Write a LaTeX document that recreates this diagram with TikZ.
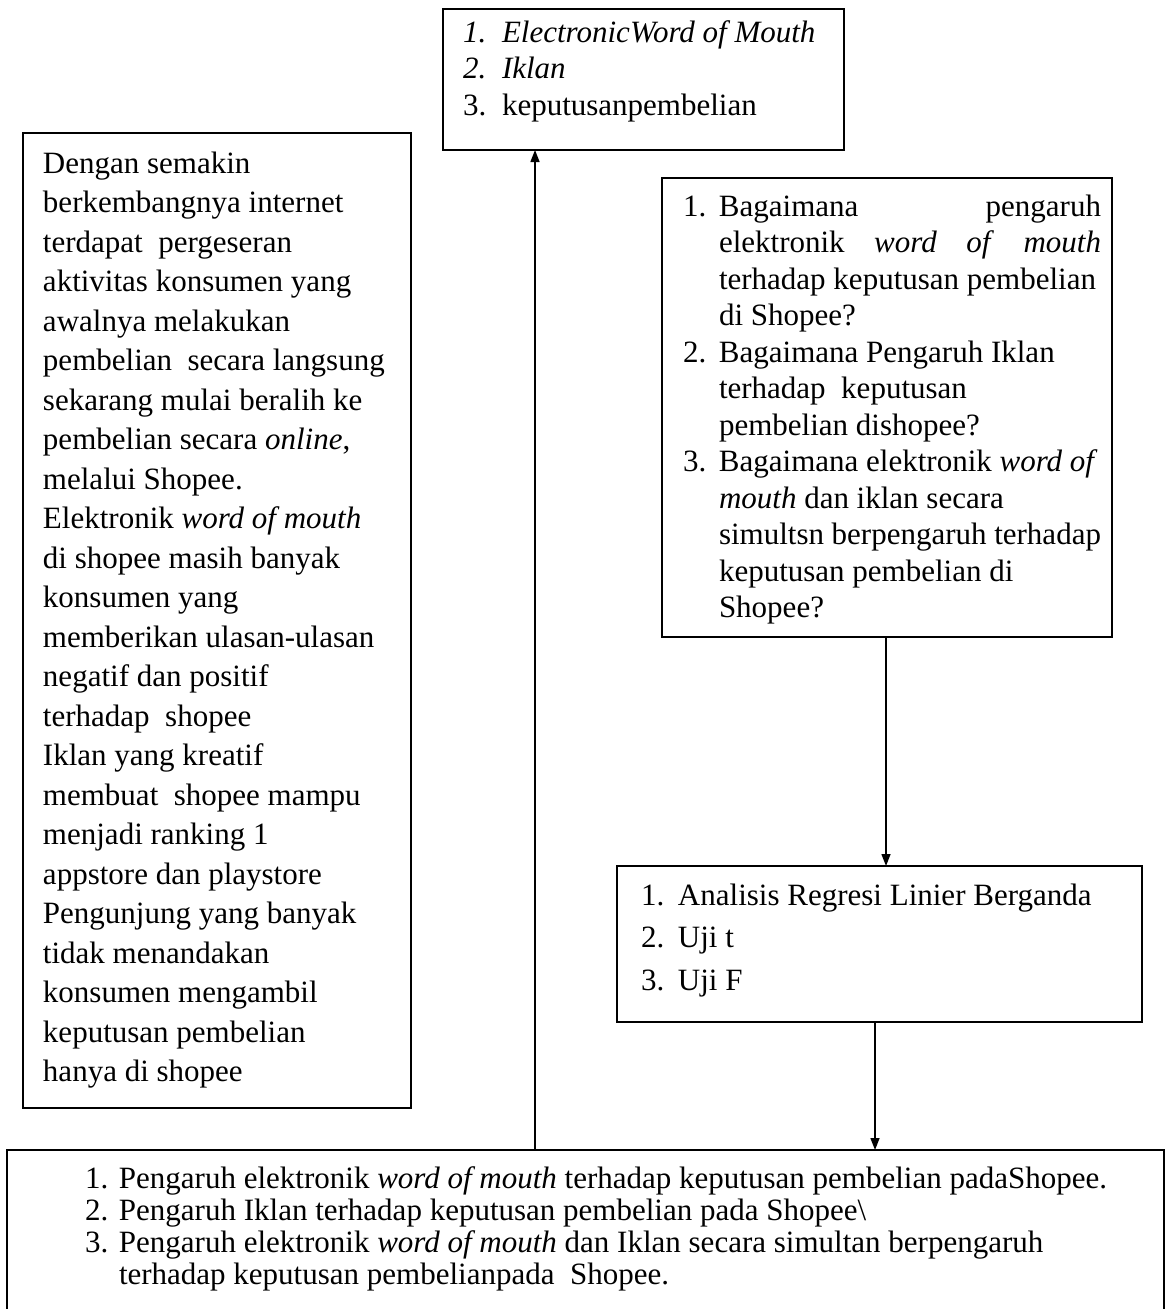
\documentclass[tikz,border=0pt]{standalone}
\usepackage{fontspec}
\setmainfont{Liberation Serif}
\usetikzlibrary{arrows.meta}
\newlength{\numw}
\newcommand{\diaRow}[2]{\hbox to \linewidth{\makebox[\numw][l]{#1}#2\hfil}}
\begin{document}
\begin{tikzpicture}[x=1pt,y=-1pt,
  frame/.style={draw=black, line width=1.6pt, inner sep=0pt, outer sep=0pt, anchor=north west},
  link/.style={draw=black, line width=1.4pt, -{Triangle[length=12pt,width=9pt]}}]
\useasboundingbox (0,0) rectangle (1166,1309);
\clip (0,0) rectangle (1166,1309);

% top box
\node[frame] (topbox) at (443,9) {\hspace*{20pt}\parbox[t][141pt][t]{381pt}{%
  \fontsize{31}{36.5}\selectfont\setlength{\numw}{39pt}%
  \diaRow{\rule{0pt}{33pt}\textit{1.}}{\textit{ElectronicWord of Mouth}}
  \diaRow{\textit{2.}}{\textit{Iklan}}
  \diaRow{3.}{keputusanpembelian}}};

% left box
\node[frame] (leftbox) at (23,133) {\hspace*{20pt}\parbox[t][975pt][t]{368pt}{%
  \fontsize{31}{39.5}\selectfont\setlength{\numw}{0pt}%
  \diaRow{\rule{0pt}{40pt}}{Dengan semakin}
  \diaRow{}{berkembangnya internet}
  \diaRow{}{terdapat\ \ pergeseran}
  \diaRow{}{aktivitas konsumen yang}
  \diaRow{}{awalnya melakukan}
  \diaRow{}{pembelian\ \ secara langsung}
  \diaRow{}{sekarang mulai beralih ke}
  \diaRow{}{pembelian secara \textit{online},}
  \diaRow{}{melalui Shopee.}
  \diaRow{}{Elektronik \textit{word of mouth}}
  \diaRow{}{di shopee masih banyak}
  \diaRow{}{konsumen yang}
  \diaRow{}{memberikan ulasan-ulasan}
  \diaRow{}{negatif dan positif}
  \diaRow{}{terhadap\ \ shopee}
  \diaRow{}{Iklan yang kreatif}
  \diaRow{}{membuat\ \ shopee mampu}
  \diaRow{}{menjadi ranking 1}
  \diaRow{}{appstore dan playstore}
  \diaRow{}{Pengunjung yang banyak}
  \diaRow{}{tidak menandakan}
  \diaRow{}{konsumen mengambil}
  \diaRow{}{keputusan pembelian}
  \diaRow{}{hanya di shopee}}};

% question box
\node[frame] (qbox) at (662,178) {\hspace*{21pt}\parbox[t][459pt][t]{418pt}{%
  \fontsize{31}{36.5}\selectfont\setlength{\numw}{36pt}%
  \diaRow{\rule{0pt}{38pt}1.}{Bagaimana\hfill pengaruh}
  \diaRow{}{elektronik\hfill\textit{word}\hfill\textit{of}\hfill\textit{mouth}}
  \diaRow{}{terhadap keputusan pembelian}
  \diaRow{}{di Shopee?}
  \diaRow{2.}{Bagaimana Pengaruh Iklan}
  \diaRow{}{terhadap\ \ keputusan}
  \diaRow{}{pembelian dishopee?}
  \diaRow{3.}{Bagaimana elektronik \textit{word of}}
  \diaRow{}{\textit{mouth} dan iklan secara}
  \diaRow{}{simultsn berpengaruh terhadap}
  \diaRow{}{keputusan pembelian di}
  \diaRow{}{Shopee?}}\hspace*{11pt}};

% analysis box
\node[frame] (abox) at (617,866) {\hspace*{24pt}\parbox[t][156pt][t]{501pt}{%
  \fontsize{31}{42.5}\selectfont\setlength{\numw}{37pt}%
  \diaRow{\rule{0pt}{39pt}1.}{Analisis Regresi Linier Berganda}
  \diaRow{2.}{Uji t}
  \diaRow{3.}{Uji F}}};

% bottom box
\node[frame] (bottombox) at (7,1150) {\hspace*{78pt}\parbox[t][180pt][t]{1079pt}{%
  \fontsize{31}{32}\selectfont\setlength{\numw}{34pt}%
  \diaRow{\rule{0pt}{38pt}1.}{Pengaruh elektronik \textit{word of mouth} terhadap keputusan pembelian padaShopee.}
  \diaRow{2.}{Pengaruh Iklan terhadap keputusan pembelian pada Shopee\textbackslash}
  \diaRow{3.}{Pengaruh elektronik \textit{word of mouth} dan Iklan secara simultan berpengaruh}
  \diaRow{}{terhadap keputusan pembelianpada\ \ Shopee.}}};

% connectors
\coordinate (c1) at (535,0);
\coordinate (c2) at (886,0);
\coordinate (c3) at (875,0);
\draw[link] (bottombox.north -| c1) -- (topbox.south -| c1);
\draw[link] (qbox.south -| c2) -- (abox.north -| c2);
\draw[link] (abox.south -| c3) -- (bottombox.north -| c3);
\end{tikzpicture}
\end{document}
